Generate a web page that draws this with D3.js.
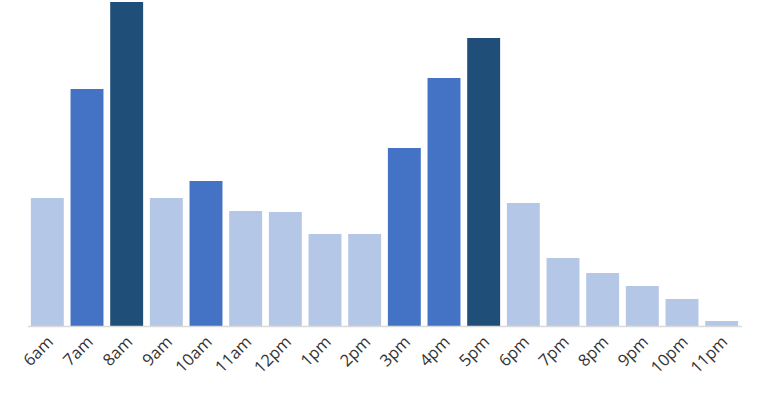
<!DOCTYPE html>
<html>
<head>
<meta charset="utf-8">
<script src="https://cdn.jsdelivr.net/npm/d3@7"></script>
<style>
  body { margin: 0; background: #fff; }
  svg text { font-family: "Open Sans", "Noto Sans", sans-serif; }
</style>
</head>
<body>
<svg></svg>
<script>
var w = 765, h = 400;

// hours of the day and values
var hours = ["6am","7am","8am","9am","10am","11am","12pm","1pm","2pm",
             "3pm","4pm","5pm","6pm","7pm","8pm","9pm","10pm","11pm"];
var values = [128, 237, 324, 128, 145, 115, 114, 92, 92,
              178, 248, 288, 123, 68, 53, 40, 27, 5];
// colour group per bar: 0 light, 1 medium, 2 dark
var level = [0, 1, 2, 0, 1, 0, 0, 0, 0, 1, 1, 2, 0, 0, 0, 0, 0, 0];

var color = ["#b4c7e7", "#4472c4", "#1f4e79"];

var svg = d3.select("svg").attr("width", w).attr("height", h);

var x = d3.scaleBand()
  .domain(hours)
  .range([27.5, 741.5])
  .paddingInner(0.17)
  .paddingOuter(0.085);

var y = d3.scaleLinear()
  .domain([0, d3.max(values)])
  .range([326, 2]);

svg.append("g").selectAll("rect")
  .data(hours)
  .join("rect")
  .attr("x", d => x(d))
  .attr("y", (d,i) => y(values[i]))
  .attr("width", x.bandwidth())
  .attr("height", (d,i) => y(0) - y(values[i]))
  .attr("fill", (d,i) => color[level[i]]);

var axis = svg.append("g")
  .attr("transform", "translate(0," + y(0) + ")")
  .call(d3.axisBottom(x).tickSize(0).tickPadding(0));

axis.select(".domain").attr("stroke", "#d9d9d9").attr("stroke-width", 1.5);

axis.selectAll("text")
  .attr("fill", "#333")
  .style("font-size", "16.5px")
  .attr("text-anchor", "end")
  .attr("dy", null)
  .attr("transform", "translate(7,17) rotate(-45)");
</script>
</body>
</html>
